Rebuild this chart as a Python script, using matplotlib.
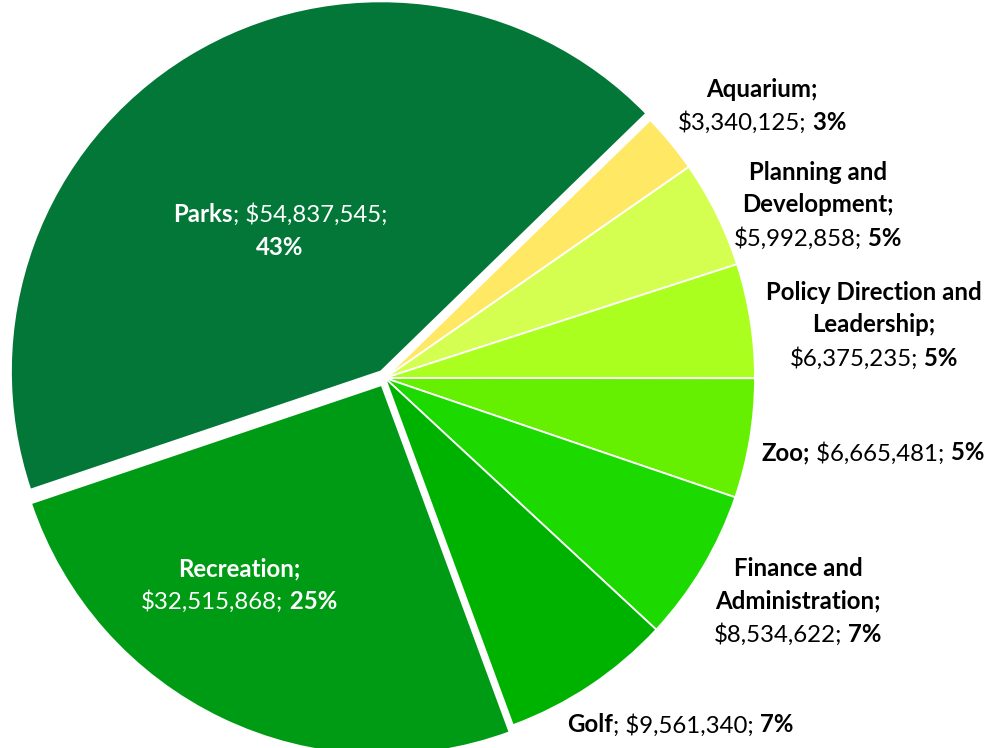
import matplotlib.pyplot as plt
from matplotlib.offsetbox import TextArea, HPacker, AnnotationBbox

# Department budgets, drawn clockwise starting from the small slices
categories = ["Aquarium", "Planning and Development", "Policy Direction and Leadership",
              "Zoo", "Finance and Administration", "Golf", "Recreation", "Parks"]
budget = [3340125, 5992858, 6375235, 6665481, 8534622, 9561340, 32515868, 54837545]
colors = ["#FFE864", "#D4FF50", "#AAFF1E", "#64F000", "#1CDA00", "#00B200", "#009B14", "#037737"]
explode = [0, 0, 0, 0, 0, 0, 0.021, 0.021]

# label markup: **bold**, {v} = dollar value, {p} = percent
label_fmt = {
    "Aquarium": "**Aquarium;**\n{v}; **{p}**",
    "Planning and Development": "**Planning and**\n**Development;**\n{v}; **{p}**",
    "Policy Direction and Leadership": "**Policy Direction and**\n**Leadership;**\n{v}; **{p}**",
    "Zoo": "**Zoo;** {v}; **{p}**",
    "Finance and Administration": "**Finance and**\n**Administration;**\n{v}; **{p}**",
    "Golf": "**Golf**; {v}; **{p}**",
    "Recreation": "**Recreation;**\n{v}; **{p}**",
    "Parks": "**Parks**; {v};\n**{p}**",
}
# label block centres in pixels from the top-left corner
label_pos = {
    "Aquarium": (762, 106),
    "Planning and Development": (818, 205),
    "Policy Direction and Leadership": (874, 325),
    "Zoo": (873, 453),
    "Finance and Administration": (798, 601),
    "Golf": (680, 725),
    "Recreation": (239, 585),
    "Parks": (280, 231),
}
inside = {"Recreation", "Parks"}

W, H = 990, 748
cx, cy, R = 385, 378, 370
FONT = "Lato"
FS = 17.3
LINE_H = 33

fig = plt.figure(figsize=(W / 100, H / 100), dpi=100)
ax = fig.add_axes([0, 0, 1, 1])
ax.pie(budget, explode=explode, colors=colors, startangle=44.2, counterclock=False,
       radius=1, wedgeprops=dict(edgecolor="white", linewidth=1.3))
ax.set_xlim(-cx / R, (W - cx) / R)
ax.set_ylim(-(H - cy) / R, cy / R)
ax.set_aspect("equal")
ax.axis("off")

total = sum(budget)


def make_line(markup, color):
    # split on ** into alternating normal / bold runs; a trailing space is
    # moved to the front of the next run so it is not lost in the packing
    parts = markup.split("**")
    runs = []
    carry = ""
    for i, txt in enumerate(parts):
        txt = carry + txt
        carry = ""
        if txt.endswith(" "):
            carry = " "
            txt = txt[:-1]
        if txt:
            runs.append((txt, "bold" if i % 2 else "normal"))
    boxes = [TextArea(t, textprops=dict(fontfamily=FONT, fontsize=FS, fontweight=w, color=color))
             for t, w in runs]
    return HPacker(children=boxes, align="baseline", pad=0, sep=0)


for name, val in zip(categories, budget):
    pct = f"{round(100 * val / total)}%"
    text = label_fmt[name].format(v=f"${val:,}", p=pct)
    lines = text.split("\n")
    color = "white" if name in inside else "black"
    bx, by = label_pos[name]
    n = len(lines)
    for k, line in enumerate(lines):
        ly = by + (k - (n - 1) / 2) * LINE_H
        ab = AnnotationBbox(make_line(line, color), (bx, H - ly), xycoords="figure pixels",
                            box_alignment=(0.5, 0.5), frameon=False, pad=0)
        ax.add_artist(ab)

fig.savefig("out.png", dpi=100)
